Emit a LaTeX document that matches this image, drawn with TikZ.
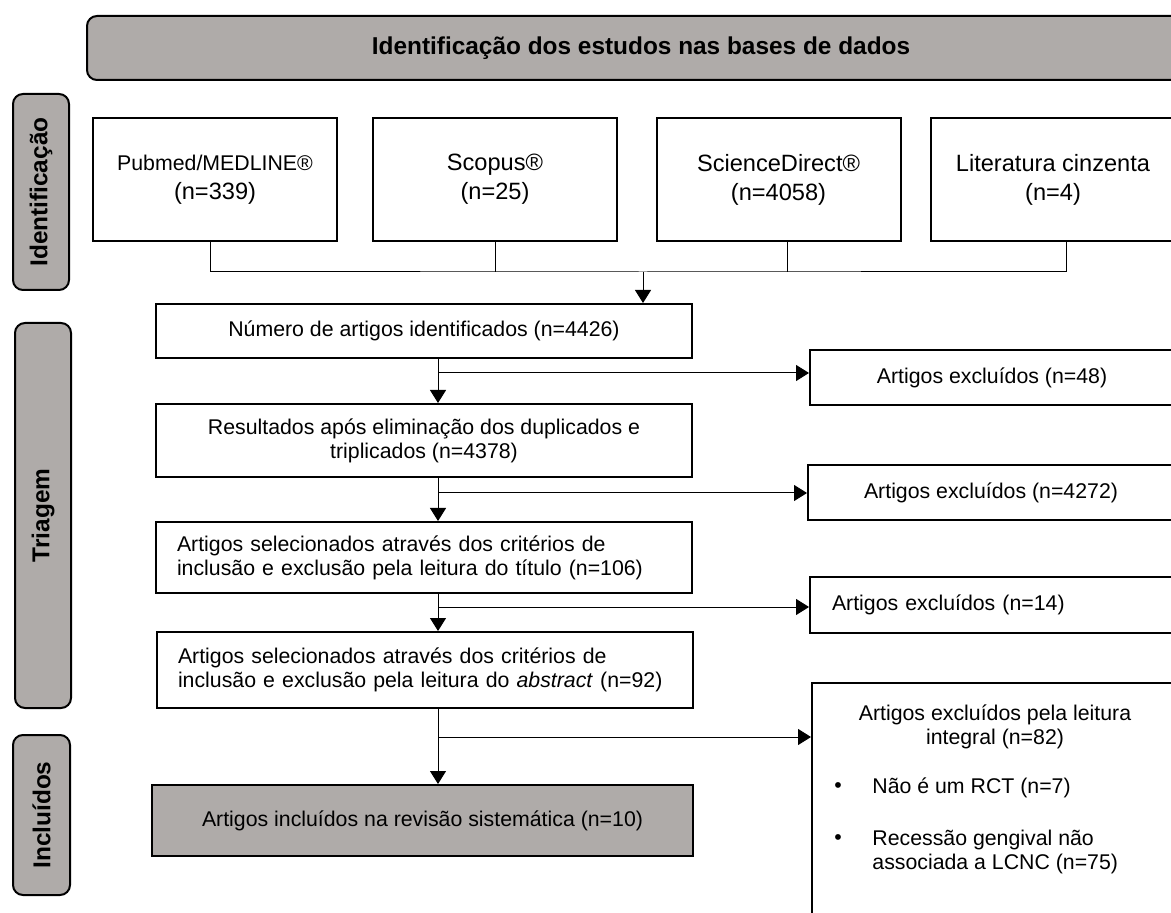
\documentclass[tikz,border=0pt]{standalone}
\usepackage{fontspec}
\setmainfont{Liberation Sans}
\usetikzlibrary{arrows.meta}
\definecolor{gbox}{RGB}{175,171,169}

\begin{document}
\begin{tikzpicture}[x=0.5pt,y=-0.5pt,
  box/.style={draw,line width=1pt,fill=white,inner sep=0pt,font=\fontsize{10.65}{12}\selectfont},
  src/.style={box,minimum width=122pt,minimum height=61.5pt,align=center,font=\fontsize{11.8}{14.5}\selectfont},
  phase/.style={draw,line width=1pt,fill=gbox,rounded corners=5pt,inner sep=0pt,font=\bfseries\fontsize{12.2}{14}\selectfont},
  txt/.style={inner sep=0pt,align=center,font=\fontsize{10.65}{12}\selectfont},
  link/.style={line width=0.5pt},
  arr/.style={link,-{Triangle[length=6.5pt,width=8pt]}}]
\clip (0,0) rectangle (1171,913);

% fases
\node[phase,minimum width=554pt,minimum height=32pt] (hdr) at (641,48) {Identificação dos estudos nas bases de dados};
\node[phase,rotate=90,minimum width=98pt,minimum height=28pt] (idlab) at (41,192) {Identificação};
\node[phase,rotate=90,minimum width=192.5pt,minimum height=28pt] (trlab) at (43,515.5) {Triagem};
\node[phase,rotate=90,minimum width=80pt,minimum height=28.5pt] (inlab) at (41.5,815) {Incluídos};

% bases de dados
\node[src] (pub) at (215,179.5) {{\fontsize{10.65}{12}\selectfont Pubmed/MEDLINE®}\\(n=339)};
\node[src] (scop) at (495,179.5) {Scopus®\\(n=25)};
\node[src] (sdir) at (778.5,179.5) {ScienceDirect®\\(n=4058)};
\node[src] (lit) at (1053,179.5) {Literatura cinzenta\\(n=4)};

% coluna principal
\node[box,minimum width=268pt,minimum height=27pt] (num) at (424,331) {Número de artigos identificados (n=4426)};
\node[box,minimum width=268pt,minimum height=36.5pt,align=center] (res) at (424,440.5) {Resultados após eliminação dos duplicados e\\triplicados (n=4378)};
\node[box,minimum width=268pt,minimum height=35.5pt,text width=247pt,align=left] (sel1) at (424,557.5) {Artigos selecionados através dos critérios de\\inclusão e exclusão pela leitura do título (n=106)};
\node[box,minimum width=268pt,minimum height=38pt,text width=247pt,align=left] (sel2) at (425,670) {Artigos selecionados através dos critérios de\\inclusão e exclusão pela leitura do \textit{abstract} (n=92)};
\node[box,fill=gbox,minimum width=270.5pt,minimum height=35.5pt] (incl) at (422.5,820.5) {Artigos incluídos na revisão sistemática (n=10)};

% excluidos
\node[box,minimum width=182pt,minimum height=27.5pt] (exc1) at (992,377.5) {Artigos excluídos (n=48)};
\node[box,minimum width=183pt,minimum height=27.5pt] (exc2) at (991,492.5) {Artigos excluídos (n=4272)};
\node[box,minimum width=182pt,minimum height=28pt,text width=160pt,align=left] (exc3) at (992,605) {Artigos excluídos (n=14)};
\node[box,minimum width=181.5pt,minimum height=125pt] (exc4) at (993.5,808) {};
\node[txt] (exc4t) at (995,727) {Artigos excluídos pela leitura\\integral (n=82)};
\node[txt] (bul1) at (838,788) {•};
\node[txt,anchor=west] (it1) at (872,788) {Não é um RCT (n=7)};
\node[txt] (bul2) at (838,840) {•};
\node[txt,anchor=west,align=left] (it2) at (872,851.5) {Recessão gengival não\\associada a LCNC (n=75)};

% ligacoes
\coordinate (bus) at (643,272);
\draw[link] ([xshift=-2.5pt]pub.south) |- (bus) -| ([xshift=6.5pt]lit.south);
\draw[link] (scop.south) -- (scop.south |- bus);
\draw[link] ([xshift=4.25pt]sdir.south) -- ([xshift=4.25pt]sdir.south |- bus);
\draw[arr] (bus) -- (bus |- num.north);

\coordinate (spine) at (438,0);
\draw[arr] (spine |- num.south) -- (spine |- res.north);
\draw[arr] (spine |- res.south) -- (spine |- sel1.north);
\draw[arr] (spine |- sel1.south) -- (spine |- sel2.north);
\draw[arr] (spine |- sel2.south) -- (spine |- incl.north);

\coordinate (b1) at (438,373);
\coordinate (b2) at (438,493);
\coordinate (b3) at (438,607);
\coordinate (b4) at (438,737);
\draw[arr] (b1) -- (b1 -| exc1.west);
\draw[arr] (b2) -- (b2 -| exc2.west);
\draw[arr] (b3) -- (b3 -| exc3.west);
\draw[arr] (b4) -- (b4 -| exc4.west);
\end{tikzpicture}
\end{document}
